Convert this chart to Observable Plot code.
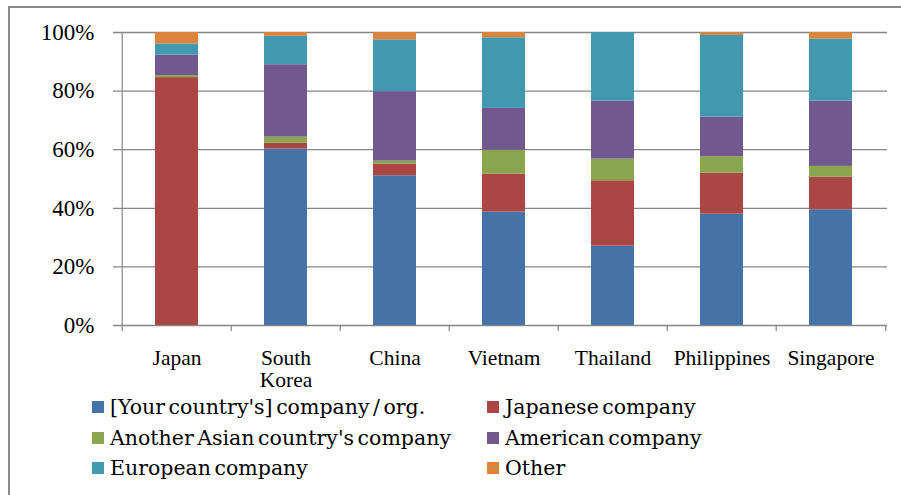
<!DOCTYPE html>
<html>
<head>
<meta charset="utf-8">
<script src="https://cdn.jsdelivr.net/npm/d3@7"></script>
<script src="https://cdn.jsdelivr.net/npm/@observablehq/plot@0.6"></script>
<style>
  body { margin: 0; background: #fff; }
  #chart { position: relative; width: 901px; height: 495px; overflow: hidden; background: #fff; }
  #frame {
    position: absolute; left: 8px; top: 6px; width: 1000px; height: 1000px;
    border-left: 2px solid #8a8a8a; border-top: 2px solid #8a8a8a;
    pointer-events: none;
  }
  .legend {
    display: grid; grid-template-columns: 395px 330px;
    grid-auto-rows: 30.5px; margin-left: 92px;
    font-family: "DejaVu Serif", serif; font-size: 20.5px; word-spacing: -3px; color: #000;
  }
  .legend .item { display: flex; align-items: center; white-space: nowrap; }
  .legend .swatch { width: 12px; height: 12px; margin-right: 6px; flex: none; }
</style>
</head>
<body>
<div id="chart"><div id="frame"></div></div>
<script>
// Countries on the x axis
const categories = ["Japan", "South Korea", "China", "Vietnam", "Thailand", "Philippines", "Singapore"];

// Share of respondents (%) by type of employer, one array per series
const ownCountry = [0, 60.2, 51.1, 38.7, 27.1, 38.0, 39.5];
const japanese   = [84.6, 2.0, 4.0, 13.0, 22.3, 14.0, 11.1];
const otherAsian = [0.7, 2.1, 1.0, 8.1, 7.4, 5.6, 3.7];
const american   = [7.0, 24.7, 23.7, 14.3, 19.8, 13.5, 22.3];
const european   = [3.8, 9.7, 17.7, 24.1, 23.4, 27.9, 21.2];
const other      = [3.9, 1.3, 2.5, 1.8, 0, 1.0, 2.2];

const seriesNames = [
  "[Your country's] company / org.",
  "Japanese company",
  "Another Asian country's company",
  "American company",
  "European company",
  "Other"
];
const seriesColors = ["#4572A7", "#AA4643", "#89A54E", "#71588F", "#4198AF", "#DB843D"];

const yTicks = [0, 20, 40, 60, 80, 100];

// Long-format table for the stack
const seriesValues = [ownCountry, japanese, otherAsian, american, european, other];
const rows = [];
seriesNames.forEach((s, si) => {
  categories.forEach((c, ci) => rows.push({country: c, series: s, value: seriesValues[si][ci]}));
});

const width = 901, height = 392;
const marginLeft = 120, marginRight = 14, marginTop = 32, marginBottom = 67;
const step = (width - marginLeft - marginRight) / categories.length;
const plotH = height - marginTop - marginBottom;
const gray = "#868686";

const chart = Plot.plot({
  width, height, marginLeft, marginRight, marginTop, marginBottom,
  style: {fontFamily: "Liberation Serif, serif", color: "#000", background: "#fff", overflow: "visible"},
  x: {domain: categories, padding: 0, axis: null},
  y: {domain: [0, 100], axis: null},
  color: {domain: seriesNames, range: seriesColors},
  marks: [
    // horizontal gridlines, reaching a little left of the axis
    Plot.ruleY(yTicks, {y: d => d, stroke: gray, strokeWidth: 1.3, insetLeft: -7}),
    // stacked bars
    Plot.barY(rows, {x: "country", y: "value", fill: "series", z: "series", insetLeft: 33, insetRight: 33}),
    // vertical axis line with its tick below the baseline
    Plot.ruleX([categories[0]], {x: d => d, dx: -step / 2, stroke: gray, strokeWidth: 1.2, insetBottom: -6}),
    // category boundary ticks
    Plot.ruleX(categories.slice(1), {x: d => d, dx: -step / 2, stroke: gray, strokeWidth: 1.2, insetTop: plotH, insetBottom: -6}),
    Plot.ruleX([categories[categories.length - 1]], {x: d => d, dx: step / 2, stroke: gray, strokeWidth: 1.2, insetTop: plotH, insetBottom: -6}),
    // axis labels
    Plot.axisY(yTicks, {label: null, tickSize: 0, tickPadding: 26, tickFormat: d => d + "%", fontSize: 23}),
    Plot.axisX({label: null, tickSize: 0, tickPadding: 24, fontSize: 21.5, lineHeight: 1.03, tickFormat: d => d.replace(" ", "\n")})
  ]
});

const container = document.getElementById("chart");
container.insertBefore(chart, container.firstChild);

// Two-column legend below the plot
const legend = document.createElement("div");
legend.className = "legend";
seriesNames.forEach((s, i) => {
  const item = document.createElement("div");
  item.className = "item";
  const sw = document.createElement("span");
  sw.className = "swatch";
  sw.style.background = seriesColors[i];
  const label = document.createElement("span");
  label.textContent = s;
  item.appendChild(sw);
  item.appendChild(label);
  legend.appendChild(item);
});
container.insertBefore(legend, document.getElementById("frame"));
</script>
</body>
</html>
